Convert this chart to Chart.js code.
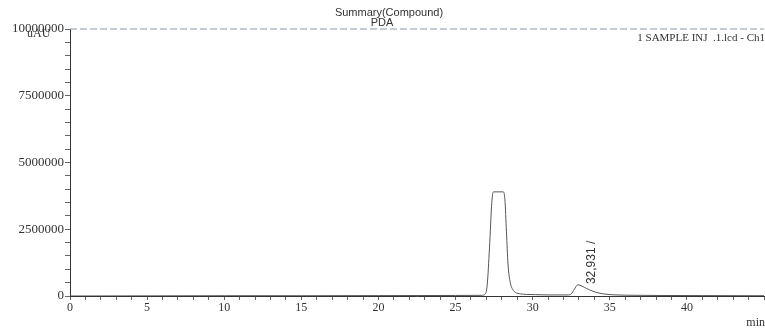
<!DOCTYPE html>
<html>
<head>
<meta charset="utf-8">
<script src="https://cdn.jsdelivr.net/npm/chart.js@4"></script>
<style>
  html, body { margin: 0; padding: 0; background: #fff; }
  #wrap { width: 765px; height: 336px; }
</style>
</head>
<body>
<div id="wrap"><canvas id="pdaChart" width="765" height="336"></canvas></div>
<script>
// retention time (min) and detector signal (uAU)
const times = [0, 5, 10, 15, 20, 25, 26.7, 26.9, 27.05, 27.2, 27.35, 27.45, 28.1, 28.2, 28.3, 28.4, 28.55, 28.7, 28.9, 29.2, 29.6, 30.2, 31, 32.3, 32.5, 32.7, 32.93, 33.2, 33.5, 33.9, 34.3, 34.7, 35.2, 36, 38, 41, 45];
const signal = [0, 5000, 10000, 10000, 15000, 20000, 25000, 60000, 400000, 1800000, 3500000, 3900000, 3900000, 3600000, 2400000, 1200000, 500000, 250000, 130000, 80000, 60000, 50000, 40000, 40000, 80000, 250000, 420000, 370000, 280000, 180000, 110000, 70000, 45000, 30000, 20000, 15000, 10000];
const peakTimes = [32.931];
const peakLabels = ["32,931 /"];
const topLineX = [0, 45];
const topLineY = [10000000, 10000000];

const titleLines = ["Summary(Compound)", "PDA"];
const yUnit = "uAU";
const xUnit = "min";
const traceName = "1 SAMPLE INJ  .1.lcd - Ch1";

function toPoints(xs, ys) {
    return xs.map((x, i) => ({x: x, y: ys[i]}));
}

const textPlugin = {
    id: "textPlugin",
    afterDraw(chart) {
        const ctx = chart.ctx;
        const xs = chart.scales.x, ys = chart.scales.y;
        ctx.save();
        ctx.fillStyle = "#333";
        // title
        ctx.font = "11px 'Liberation Sans'";
        ctx.textAlign = "center";
        ctx.textBaseline = "middle";
        ctx.fillText(titleLines[0], 389, 13);
        ctx.fillText(titleLines[1], 382, 23);
        // units
        ctx.font = "12px 'Liberation Serif'";
        ctx.textAlign = "left";
        ctx.fillText(yUnit, 27, 34);
        ctx.textAlign = "right";
        ctx.fillText(xUnit, 765, 323);
        ctx.font = "11px 'Liberation Serif'";
        ctx.fillText(traceName, 765, 38);
        // peak label, rotated
        ctx.font = "12px 'Liberation Sans'";
        peakTimes.forEach((t, i) => {
            let k = times.indexOf(t) >= 0 ? times.indexOf(t) : times.findIndex(v => v >= t);
            const px = xs.getPixelForValue(t) + 14;
            const py = ys.getPixelForValue(signal[k]) - 2;
            ctx.save();
            ctx.translate(px, py);
            ctx.rotate(-Math.PI / 2);
            ctx.textAlign = "left";
            ctx.textBaseline = "middle";
            ctx.fillText(peakLabels[i], 0, 0);
            ctx.restore();
        });
        ctx.restore();
    }
};

new Chart(document.getElementById("pdaChart"), {
    type: "line",
    data: {
        datasets: [{
            data: toPoints(times, signal),
            borderColor: "#555",
            borderWidth: 1,
            pointRadius: 0,
            cubicInterpolationMode: "monotone"
        }, {
            data: toPoints(topLineX, topLineY),
            borderColor: "#8a99a6",
            borderWidth: 1,
            borderDash: [7, 3],
            pointRadius: 0,
            clip: false
        }]
    },
    options: {
        responsive: false,
        animation: false,
        layout: {padding: {top: 29, right: 0, bottom: 0, left: 0}},
        plugins: {
            legend: {display: false},
            tooltip: {enabled: false},
            title: {display: false}
        },
        scales: {
            x: {
                type: "linear",
                min: 0,
                max: 45,
                afterFit(scale) { scale.height = 40; },
                ticks: {
                    stepSize: 1,
                    autoSkip: false,
                    maxRotation: 0,
                    padding: 1,
                    color: "#333",
                    font: {family: "'Liberation Serif'", size: 12},
                    callback: v => (v % 5 === 0 && v < 45) ? String(v) : ""
                },
                grid: {drawOnChartArea: false, tickLength: 4, color: "#666"},
                border: {color: "#333", width: 1}
            },
            y: {
                min: 0,
                max: 10000000,
                afterFit(scale) { scale.width = 70; },
                ticks: {
                    stepSize: 500000,
                    autoSkip: false,
                    padding: 1,
                    color: "#333",
                    font: {family: "'Liberation Serif'", size: 13},
                    callback: v => (v % 2500000 === 0) ? String(v) : ""
                },
                grid: {drawOnChartArea: false, tickLength: 5, color: "#666"},
                border: {color: "#333", width: 1}
            }
        }
    },
    plugins: [textPlugin]
});
</script>
</body>
</html>
